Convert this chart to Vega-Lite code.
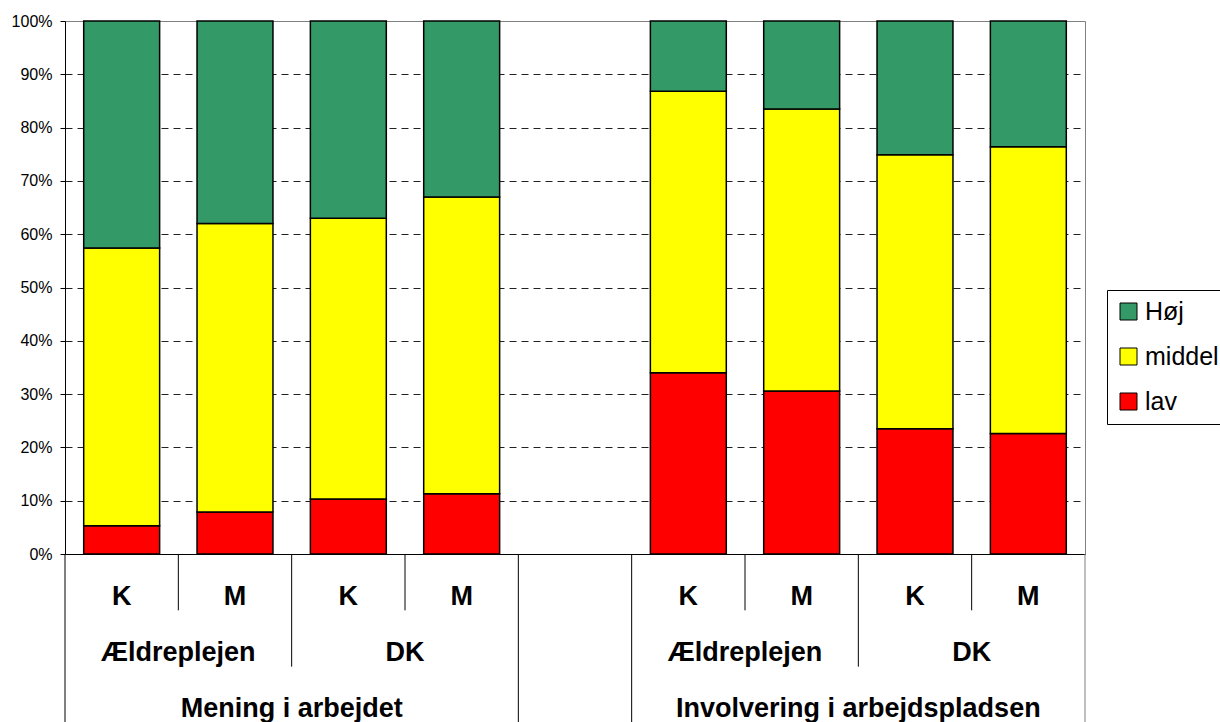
{
  "$schema": "https://vega.github.io/schema/vega-lite/v6.json",
  "background": "white",
  "padding": {"left": 10, "top": 12, "right": 0, "bottom": 0},
  "config": {"view": {"stroke": null}, "font": "Liberation Sans"},
  "datasets": {
    "andele": [
      {"søjle": "1", "niveau": "lav", "trin": 1, "andel": 0.053},
      {"søjle": "1", "niveau": "middel", "trin": 2, "andel": 0.521},
      {"søjle": "1", "niveau": "Høj", "trin": 3, "andel": 0.426},
      {"søjle": "2", "niveau": "lav", "trin": 1, "andel": 0.079},
      {"søjle": "2", "niveau": "middel", "trin": 2, "andel": 0.541},
      {"søjle": "2", "niveau": "Høj", "trin": 3, "andel": 0.380},
      {"søjle": "3", "niveau": "lav", "trin": 1, "andel": 0.103},
      {"søjle": "3", "niveau": "middel", "trin": 2, "andel": 0.527},
      {"søjle": "3", "niveau": "Høj", "trin": 3, "andel": 0.370},
      {"søjle": "4", "niveau": "lav", "trin": 1, "andel": 0.113},
      {"søjle": "4", "niveau": "middel", "trin": 2, "andel": 0.557},
      {"søjle": "4", "niveau": "Høj", "trin": 3, "andel": 0.330},
      {"søjle": "6", "niveau": "lav", "trin": 1, "andel": 0.340},
      {"søjle": "6", "niveau": "middel", "trin": 2, "andel": 0.528},
      {"søjle": "6", "niveau": "Høj", "trin": 3, "andel": 0.132},
      {"søjle": "7", "niveau": "lav", "trin": 1, "andel": 0.306},
      {"søjle": "7", "niveau": "middel", "trin": 2, "andel": 0.529},
      {"søjle": "7", "niveau": "Høj", "trin": 3, "andel": 0.165},
      {"søjle": "8", "niveau": "lav", "trin": 1, "andel": 0.235},
      {"søjle": "8", "niveau": "middel", "trin": 2, "andel": 0.514},
      {"søjle": "8", "niveau": "Høj", "trin": 3, "andel": 0.251},
      {"søjle": "9", "niveau": "lav", "trin": 1, "andel": 0.226},
      {"søjle": "9", "niveau": "middel", "trin": 2, "andel": 0.538},
      {"søjle": "9", "niveau": "Høj", "trin": 3, "andel": 0.236}
    ],
    "skillelinjer": [
      {"søjle": "1", "dybde": 3},
      {"søjle": "2", "dybde": 1},
      {"søjle": "3", "dybde": 2},
      {"søjle": "4", "dybde": 1},
      {"søjle": "5", "dybde": 3},
      {"søjle": "6", "dybde": 3},
      {"søjle": "7", "dybde": 1},
      {"søjle": "8", "dybde": 2},
      {"søjle": "9", "dybde": 1}
    ],
    "højrekant": [
      {"søjle": "9", "dybde": 3}
    ],
    "køn": [
      {"søjle": "1", "række": 1, "tekst": "K"},
      {"søjle": "2", "række": 1, "tekst": "M"},
      {"søjle": "3", "række": 1, "tekst": "K"},
      {"søjle": "4", "række": 1, "tekst": "M"},
      {"søjle": "6", "række": 1, "tekst": "K"},
      {"søjle": "7", "række": 1, "tekst": "M"},
      {"søjle": "8", "række": 1, "tekst": "K"},
      {"søjle": "9", "række": 1, "tekst": "M"}
    ],
    "grupper": [
      {"søjle": "1", "række": 2, "tekst": "Ældreplejen"},
      {"søjle": "3", "række": 2, "tekst": "DK"},
      {"søjle": "6", "række": 2, "tekst": "Ældreplejen"},
      {"søjle": "8", "række": 2, "tekst": "DK"},
      {"søjle": "2", "række": 3, "tekst": "Mening i arbejdet"},
      {"søjle": "7", "række": 3, "tekst": "Involvering i arbejdspladsen"}
    ]
  },
  "spacing": 0,
  "bounds": "flush",
  "vconcat": [
    {
      "width": 1020,
      "height": 533,
      "view": {"stroke": "#808080", "strokeWidth": 1},
      "data": {"name": "andele"},
      "mark": {"type": "bar", "stroke": "black", "strokeWidth": 1.5},
      "encoding": {
        "x": {
          "field": "søjle",
          "type": "nominal",
          "scale": {"domain": ["1", "2", "3", "4", "5", "6", "7", "8", "9"], "paddingInner": 0.33, "paddingOuter": 0.165},
          "axis": {"title": null, "labels": false, "ticks": false, "grid": false, "domainColor": "black", "domainWidth": 1, "minExtent": 0, "maxExtent": 0}
        },
        "y": {
          "field": "andel",
          "type": "quantitative",
          "stack": "zero",
          "scale": {"domain": [0, 1], "nice": false},
          "axis": {
            "title": null,
            "values": [0, 0.1, 0.2, 0.3, 0.4, 0.5, 0.6, 0.7, 0.8, 0.9, 1],
            "format": ".0%",
            "labelFontSize": 16,
            "labelColor": "black",
            "labelPadding": 8,
            "tickSize": 5,
            "tickColor": "black",
            "domainColor": "black",
            "domainWidth": 1,
            "grid": true,
            "gridColor": {"condition": {"test": "datum.value >= 1", "value": "transparent"}, "value": "#222222"},
            "gridDash": [7, 5],
            "gridWidth": 1
          }
        },
        "color": {
          "field": "niveau",
          "type": "nominal",
          "scale": {"domain": ["Høj", "middel", "lav"], "range": ["#339966", "#FFFF00", "#FF0000"]},
          "legend": {
            "title": null,
            "orient": "none",
            "legendX": 1042,
            "legendY": 269,
            "strokeColor": "black",
            "fillColor": "white",
            "padding": 9,
            "symbolType": "square",
            "symbolSize": 289,
            "symbolStrokeColor": "black",
            "symbolStrokeWidth": 1,
            "labelFontSize": 25,
            "labelColor": "black",
            "labelOffset": 4,
            "rowPadding": 19
          }
        },
        "order": {"field": "trin", "type": "quantitative"}
      }
    },
    {
      "width": 1020,
      "height": 169,
      "layer": [
        {
          "data": {"name": "skillelinjer"},
          "mark": {"type": "rule", "color": "black", "strokeWidth": 1},
          "encoding": {
            "x": {
              "field": "søjle",
              "type": "nominal",
              "bandPosition": 0,
              "scale": {"domain": ["1", "2", "3", "4", "5", "6", "7", "8", "9"], "paddingInner": 0, "paddingOuter": 0},
              "axis": null
            },
            "y": {"field": "dybde", "type": "quantitative", "scale": {"domain": [0, 3], "reverse": true, "nice": false, "zero": false}, "axis": null},
            "y2": {"datum": 0}
          }
        },
        {
          "data": {"name": "højrekant"},
          "mark": {"type": "rule", "color": "#808080", "strokeWidth": 1},
          "encoding": {
            "x": {"field": "søjle", "type": "nominal", "bandPosition": 1, "axis": null},
            "y": {"field": "dybde", "type": "quantitative", "axis": null},
            "y2": {"datum": 0}
          }
        },
        {
          "data": {"name": "køn"},
          "mark": {"type": "text", "fontSize": 27, "fontWeight": "bold", "color": "black", "baseline": "alphabetic", "align": "center", "dy": -5},
          "encoding": {
            "x": {"field": "søjle", "type": "nominal", "bandPosition": 0.5, "axis": null},
            "y": {"field": "række", "type": "quantitative", "axis": null},
            "text": {"field": "tekst"}
          }
        },
        {
          "data": {"name": "grupper"},
          "mark": {"type": "text", "fontSize": 27, "fontWeight": "bold", "color": "black", "baseline": "alphabetic", "align": "center", "dy": -6},
          "encoding": {
            "x": {"field": "søjle", "type": "nominal", "bandPosition": 1, "axis": null},
            "y": {"field": "række", "type": "quantitative", "axis": null},
            "text": {"field": "tekst"}
          }
        }
      ]
    }
  ]
}
